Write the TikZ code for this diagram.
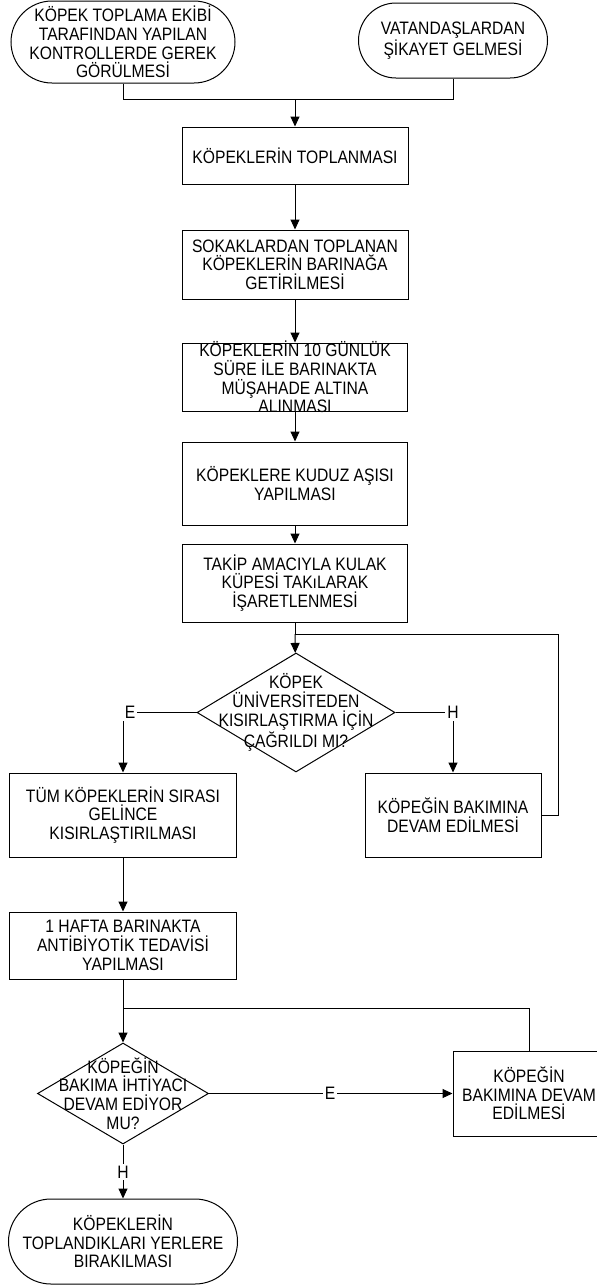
\documentclass[tikz,border=0pt]{standalone}
\usepackage{fontspec}
\setmainfont{Liberation Sans}[FakeStretch=0.87]
\usetikzlibrary{arrows.meta,shapes.geometric,shapes.misc}

\begin{document}
\begin{tikzpicture}[x=0.5pt,y=-0.5pt,line width=0.5pt,
		txt/.style={align=center,font=\fontsize{9}{9.35}\selectfont},
		box/.style={draw,rectangle,inner sep=0pt},
		term/.style={draw,rounded rectangle,inner sep=0pt},
		dec/.style={draw,diamond,inner sep=0pt},
		lbl/.style={txt,fill=white,inner sep=1pt},
		arr/.style={-{Triangle[length=5pt,width=4.5pt]}}]
			\useasboundingbox (0,0) rectangle (597,1286);
			
			\node[term,minimum width=112pt,minimum height=41pt,label={[txt]center:KÖPEK TOPLAMA EKİBİ\\TARAFINDAN YAPILAN\\KONTROLLERDE GEREK\\GÖRÜLMESİ}] (1)at(123,42) {};
			\node[term,minimum width=94.5pt,minimum height=37.5pt,label={[txt]center:VATANDAŞLARDAN\\ŞİKAYET GELMESİ}] (2)at(453,40.5) {};
			\node[box,minimum width=113pt,minimum height=28.5pt,label={[txt]center:KÖPEKLERİN TOPLANMASI}] (3)at(295,155.5) {};
			\node[box,minimum width=113pt,minimum height=34.5pt,label={[txt]center:SOKAKLARDAN TOPLANAN\\KÖPEKLERİN BARINAĞA\\GETİRİLMESİ}] (4)at(295,264.5) {};
			\node[box,minimum width=112.5pt,minimum height=34pt,label={[txt]center:KÖPEKLERİN 10 GÜNLÜK\\SÜRE İLE BARINAKTA\\MÜŞAHADE ALTINA\\ALINMASI}] (5)at(295,377) {};
			\node[box,minimum width=112.5pt,minimum height=41.5pt,label={[txt]center:KÖPEKLERE KUDUZ AŞISI\\YAPILMASI}] (6)at(295,483.5) {};
			\node[box,minimum width=112.5pt,minimum height=39pt,label={[txt]center:TAKİP AMACIYLA KULAK\\KÜPESİ TAKıLARAK\\İŞARETLENMESİ}] (7)at(295,583) {};
			\node[dec,minimum width=99pt,minimum height=59.5pt,label={[txt]center:KÖPEK\\ÜNİVERSİTEDEN\\KISIRLAŞTIRMA İÇİN\\ÇAĞRILDI MI?}] (8)at(296,712.5) {};
			\node[box,minimum width=113.5pt,minimum height=42pt,label={[txt]center:TÜM KÖPEKLERİN SIRASI\\GELİNCE\\KISIRLAŞTIRILMASI}] (9)at(123,815) {};
			\node[box,minimum width=88pt,minimum height=42pt,label={[txt]center:KÖPEĞİN BAKIMINA\\DEVAM EDİLMESİ}] (10)at(453,815) {};
			\node[box,minimum width=113.5pt,minimum height=33.5pt,label={[txt]center:1 HAFTA BARINAKTA\\ANTİBİYOTİK TEDAVİSİ\\YAPILMASI}] (11)at(123,945.5) {};
			\node[dec,minimum width=85.5pt,minimum height=50.5pt,label={[txt]center:KÖPEĞİN\\BAKIMA İHTİYACI\\DEVAM EDİYOR\\MU?}] (12)at(123,1093.5) {};
			\node[box,minimum width=76pt,minimum height=42.5pt,label={[txt]center:KÖPEĞİN\\BAKIMINA DEVAM\\EDİLMESİ}] (13)at(529,1093.5) {};
			\node[term,minimum width=114.5pt,minimum height=42.5pt,label={[txt]center:KÖPEKLERİN\\TOPLANDIKLARI YERLERE\\BIRAKILMASI}] (14)at(123,1241.5) {};
			
			\coordinate (j1)at(295,99);
			\coordinate (j2)at(295,634);
			\coordinate (j3)at(123,1008);
			\coordinate (r1)at(558,634);
			
			\draw (1.south) |- (j1);
			\draw (2.south) |- (j1);
			\draw[arr] (j1) -- (3);
			\draw[arr] (3) -- (4);
			\draw[arr] (4) -- (5);
			\draw[arr] (5) -- (6);
			\draw[arr] (6) -- (7);
			\draw (7) -- (j2);
			\draw[arr] (j2) -- (8);
			\draw[arr] (8.west) -| (9.north);
			\draw[arr] (8.east) -| (10.north);
			\draw (10.east) -| (r1) -- (j2);
			\draw[arr] (9) -- (11);
			\draw (11) -- (j3);
			\draw[arr] (j3) -- (12);
			\draw (13.north) |- (j3);
			\draw[arr] (12.east) -- (13.west);
			\draw[arr] (12.south) -- (14.north);
			
			\node[lbl] (e1)at(130,712.5) {E};
			\node[lbl] (h1)at(453,712.5) {H};
			\node[lbl] (e2)at(330,1093.5) {E};
			\node[lbl] (h2)at(123,1172) {H};
		\end{tikzpicture}
\end{document}
